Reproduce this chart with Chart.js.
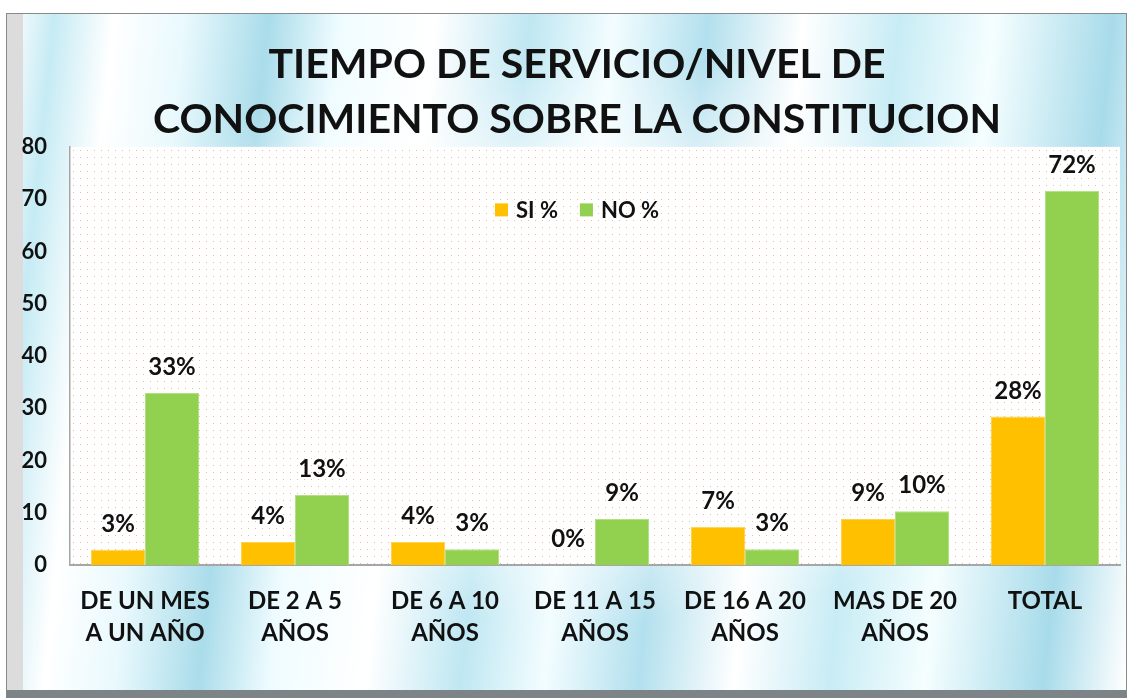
<!DOCTYPE html>
<html>
<head>
<meta charset="utf-8">
<script src="https://cdn.jsdelivr.net/npm/chart.js@4.4.1/dist/chart.umd.min.js"></script>
<style>
  html, body { margin: 0; padding: 0; background: #ffffff; }
  body { width: 1130px; height: 698px; position: relative; overflow: hidden; }
  #marco {
    position: absolute; left: 6px; top: 13px; width: 1119px; height: 676px;
    border: 1px solid #8a8a8a; border-bottom: 8px solid #7d8487;
    box-shadow: inset 16px 0 0 #dcdcdc;
    background:
      radial-gradient(ellipse 48% 42% at 52% 48%, rgba(255,255,255,0.95) 0%, rgba(255,255,255,0.7) 55%, rgba(255,255,255,0) 100%),
      linear-gradient(96deg, #ffffff 0%, #c6ebf4 4%, #ffffff 9%, #e9f9fd 15%, #aadcea 22%, #effcff 28%, #ffffff 36%,
        #bfe7f2 44%, #f3fdff 51%, #b3e0ee 59%, #ffffff 67%, #c8ecf5 75%, #f5feff 83%, #a8dbea 93%, #ffffff 100%);
  }
  #contenitore { position: absolute; left: 0; top: 0; width: 1130px; height: 698px; }
</style>
</head>
<body>
<div id="marco"></div>
<div id="contenitore"><canvas id="grafico" width="1130" height="698"></canvas></div>
<script>
// dati
const categorie = [
  ['DE UN MES', 'A UN AÑO'],
  ['DE 2 A 5', 'AÑOS'],
  ['DE 6 A 10', 'AÑOS'],
  ['DE 11 A 15', 'AÑOS'],
  ['DE 16 A 20', 'AÑOS'],
  ['MAS DE 20', 'AÑOS'],
  'TOTAL'
];
const valoriSi = [2.9, 4.4, 4.4, 0, 7.3, 8.8, 28.4];
const valoriNo = [32.9, 13.4, 3.0, 8.8, 3.0, 10.3, 71.6];
const etichetteSi = ['3%', '4%', '4%', '0%', '7%', '9%', '28%'];
const etichetteNo = ['33%', '13%', '3%', '9%', '3%', '10%', '72%'];
const tickY = [0, 10, 20, 30, 40, 50, 60, 70, 80];

const FONT = "Lato, 'Open Sans', sans-serif";
const NERO = '#111111';

// sfondo punteggiato dell'area del grafico
const sfondoArea = {
  id: 'sfondoArea',
  beforeDraw(chart) {
    const { ctx, chartArea: a } = chart;
    const pc = document.createElement('canvas');
    pc.width = 7; pc.height = 7;
    const p = pc.getContext('2d');
    p.fillStyle = 'rgba(240,160,100,0.75)';
    p.fillRect(3, 3, 1, 1);
    ctx.save();
    ctx.fillStyle = '#ffffff';
    ctx.fillRect(a.left, a.top, a.width, a.height);
    ctx.fillStyle = ctx.createPattern(pc, 'repeat');
    ctx.fillRect(a.left, a.top, a.width, a.height);
    ctx.restore();
  }
};

// titolo un po' spostato a destra come nell'originale
const spostaTitolo = {
  id: 'spostaTitolo',
  afterLayout(chart) {
    if (chart.titleBlock) chart.titleBlock.left = 34;
  }
};

// etichette percentuali sopra le barre
const etichetteBarre = {
  id: 'etichetteBarre',
  afterDatasetsDraw(chart) {
    const ctx = chart.ctx;
    const testi = [etichetteSi, etichetteNo];
    ctx.save();
    ctx.font = 'bold 24px ' + FONT;
    ctx.fillStyle = NERO;
    ctx.textAlign = 'center';
    ctx.textBaseline = 'alphabetic';
    chart.data.datasets.forEach((ds, i) => {
      chart.getDatasetMeta(i).data.forEach((bar, j) => {
        ctx.fillText(testi[i][j], bar.x, bar.y - 18);
      });
    });
    ctx.restore();
  }
};

// legenda dentro l'area del grafico
const legendaInterna = {
  id: 'legendaInterna',
  afterDraw(chart) {
    const { ctx, chartArea: a } = chart;
    ctx.save();
    ctx.font = 'bold 22px ' + FONT;
    ctx.textBaseline = 'middle';
    const lato = 13, spazio = 8, gap = 22;
    const voci = chart.data.datasets.map(ds => ({ t: ds.label, c: ds.backgroundColor, w: ctx.measureText(ds.label).width }));
    const totale = voci.reduce((s, v) => s + lato + spazio + v.w, 0) + gap * (voci.length - 1);
    let x = (a.left + a.right) / 2 - 18 - totale / 2;
    const y = a.top + 63;
    voci.forEach(v => {
      ctx.fillStyle = v.c;
      ctx.fillRect(x, y - lato / 2, lato, lato);
      x += lato + spazio;
      ctx.fillStyle = NERO;
      ctx.fillText(v.t, x, y + 1);
      x += v.w + gap;
    });
    ctx.restore();
  }
};

new Chart(document.getElementById('grafico'), {
  type: 'bar',
  data: {
    labels: categorie,
    datasets: [
      { label: 'SI %', data: valoriSi, backgroundColor: '#FFC000', borderColor: '#ffd24d', borderWidth: 1 },
      { label: 'NO %', data: valoriNo, backgroundColor: '#92D050', borderColor: '#b3e083', borderWidth: 1 }
    ]
  },
  options: {
    responsive: false,
    animation: false,
    layout: { padding: { left: 0, right: 10, top: 0, bottom: 0 } },
    categoryPercentage: 0.72,
    barPercentage: 1.0,
    plugins: {
      legend: { display: false },
      tooltip: { enabled: false },
      title: {
        display: true,
        text: ['TIEMPO DE SERVICIO/NIVEL DE', 'CONOCIMIENTO SOBRE LA CONSTITUCION'],
        color: NERO,
        font: { family: FONT, size: 41, weight: 'bold', lineHeight: 1.34 },
        padding: { top: 37, bottom: 0 }
      }
    },
    scales: {
      x: {
        grid: { display: false, drawTicks: false },
        border: { display: true, color: '#a6a6a6', width: 2 },
        ticks: {
          color: NERO, padding: 20, maxRotation: 0, autoSkip: false,
          font: { family: FONT, size: 24, weight: 'bold', lineHeight: 1.333 }
        },
        afterFit: s => { s.height = 133; }
      },
      y: {
        min: 0, max: 80,
        afterBuildTicks: s => { s.ticks = tickY.map(v => ({ value: v })); },
        grid: { display: false, drawTicks: false },
        border: { display: true, color: '#a6a6a6', width: 1.5 },
        ticks: {
          color: NERO, padding: 23,
          font: { family: FONT, size: 22, weight: 'bold' }
        },
        afterFit: s => { s.width = 70; }
      }
    }
  },
  plugins: [sfondoArea, spostaTitolo, etichetteBarre, legendaInterna]
});
</script>
</body>
</html>
